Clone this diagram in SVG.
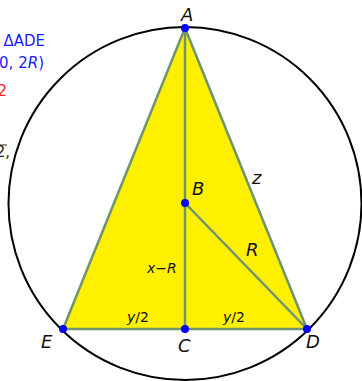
<svg xmlns="http://www.w3.org/2000/svg" width="362" height="381" viewBox="0 0 362 381">
<style>
.lbl{font-family:"DejaVu Sans",sans-serif;font-style:oblique;font-size:18px;fill:#111}
.sm{font-family:"DejaVu Sans",sans-serif;font-size:14px;fill:#111}
.seg{stroke:#6f946f;stroke-width:2.5;fill:none;stroke-linecap:round}
.pt{fill:#0000ff}
.side{font-family:"DejaVu Sans",sans-serif;font-size:15px}
</style>
<rect width="362" height="381" fill="#fff"/>
<g id="side-text">
<text class="side" x="45" y="46" text-anchor="end" fill="#1a1aff">ΔADE</text>
<text class="side" x="44" y="68" text-anchor="end" fill="#1a1aff">0, 2<tspan font-style="oblique">R</tspan>)</text>
<text class="side" x="7" y="96" text-anchor="end" fill="#ff2020" font-size="11">2</text>
<text class="side" x="10" y="157" text-anchor="end" fill="#222">2,</text>
<line x1="0" y1="145" x2="7" y2="145" stroke="#222" stroke-width="1"/>
</g>
<g id="circle">
<circle cx="185" cy="203.5" r="176.5" fill="none" stroke="#000" stroke-width="2"/>
</g>
<g id="triangle">
<polygon points="185,28 307,329 63,329" fill="#fff000"/>
</g>
<g id="connectors">
<line class="seg" x1="185" y1="28" x2="307" y2="329"/>
<line class="seg" x1="185" y1="28" x2="63" y2="329"/>
<line class="seg" x1="63" y1="329" x2="307" y2="329"/>
<line class="seg" x1="185" y1="28" x2="185" y2="329"/>
<line class="seg" x1="185" y1="203" x2="307" y2="329"/>
</g>
<g id="node-A"><circle class="pt" cx="185" cy="28" r="4"/><text class="lbl" x="181" y="21">A</text></g>
<g id="node-B"><circle class="pt" cx="185" cy="203" r="4"/><text class="lbl" x="192" y="195">B</text></g>
<g id="node-C"><circle class="pt" cx="185" cy="329" r="4"/><text class="lbl" x="178" y="352">C</text></g>
<g id="node-D"><circle class="pt" cx="307" cy="329" r="4"/><text class="lbl" x="306" y="348">D</text></g>
<g id="node-E"><circle class="pt" cx="63" cy="329" r="4"/><text class="lbl" x="41" y="348">E</text></g>
<g id="labels">
<text class="lbl" x="252" y="184">z</text>
<text class="lbl" x="246" y="256">R</text>
<text class="sm" x="147" y="273"><tspan font-style="oblique">x</tspan>−<tspan font-style="oblique">R</tspan></text>
<text class="sm" x="127" y="322"><tspan font-style="oblique">y</tspan>/2</text>
<text class="sm" x="223" y="322"><tspan font-style="oblique">y</tspan>/2</text>
</g>
</svg>
